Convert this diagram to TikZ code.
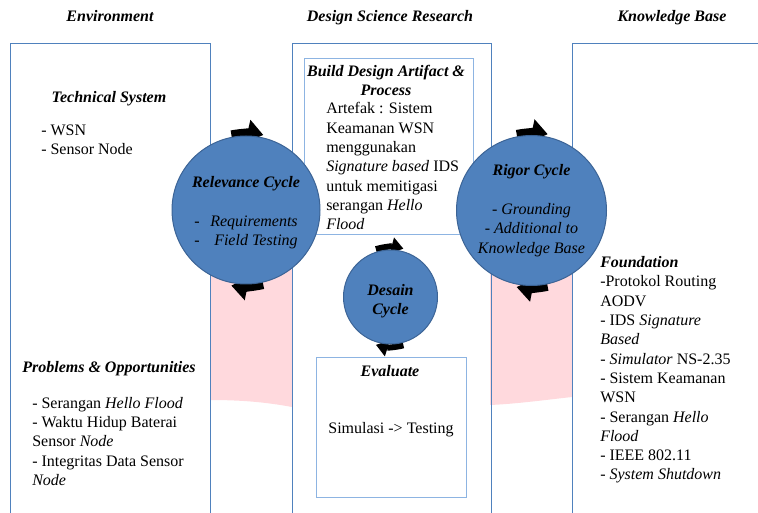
\documentclass[tikz,border=0pt]{standalone}
\usepackage{fontspec}
\setmainfont{Liberation Serif}
\usetikzlibrary{arrows.meta}
\definecolor{boxblue}{RGB}{79,129,189}
\definecolor{lightblue}{RGB}{141,180,226}
\definecolor{cyclefill}{RGB}{79,129,189}
\definecolor{cycleedge}{RGB}{60,100,150}
\definecolor{pinkzone}{RGB}{255,217,221}
% two black arrows round a cycle: [style]{centre}{radius}{start}{end}
\newcommand{\cyclearrows}[5][]{%
  \draw[arrowband,#1] ([shift={(-#4:#3)}]#2) arc (-#4:-#5:#3);
  \draw[arrowband,#1] ([shift={(#5:#3)}]#2) arc (#5:#4:#3);
}

\begin{document}
\begin{tikzpicture}[x=0.75pt, y=-0.75pt,
    outerbox/.style={draw=boxblue, line width=0.75pt},
    innerbox/.style={draw=lightblue, line width=0.75pt, fill=white},
    cyclenode/.style={circle, draw=cycleedge, fill=cyclefill, line width=0.75pt, inner sep=0pt, align=center, font=\fontsize{12}{14.5}\selectfont\itshape},
    arrowband/.style={line width=6pt, -{Triangle[length=12pt, width=17pt]}},
    smallband/.style={line width=4.5pt, -{Triangle[length=9pt, width=12pt]}},
    heading/.style={inner sep=0pt, anchor=base, align=center, font=\fontsize{12}{14.5}\selectfont\bfseries\itshape},
    txt/.style={inner sep=0pt, anchor=base west, align=left, font=\fontsize{12}{14.5}\selectfont}]
  %%%%% START %%%%%
  \useasboundingbox (0,0) rectangle (758,513);

  % pink zones between the columns
  \fill[pinkzone] (210,262) -- (292,262) -- (292,407) .. controls (265,402) and (240,400) .. (210,400) -- cycle;
  \fill[pinkzone] (490,262) -- (572,262) -- (572,397) .. controls (545,400) and (515,404) .. (490,405) -- cycle;

  % columns
  \draw[outerbox] (10,513) |- (210,44) -- (210,513);
  \draw[outerbox] (292,513) |- (491,44) -- (491,513);
  \draw[outerbox] (572,513) |- (758,44);

  \draw[innerbox] (304,59) rectangle (473,235);
  \draw[innerbox] (316,358) rectangle (466,498);

  % column titles
  \node[heading] (envtitle) at (110,22) {Environment};
  \node[heading] (dsrtitle) at (390,22) {Design Science Research};
  \node[heading] (kbtitle) at (672,22) {Knowledge Base};

  % environment (multi-line texts sit on their last line)
  \node[heading] (techsys) at (109,103) {Technical System};
  \node[txt] (techlist) at (41,154.5) {- WSN\\- Sensor Node};
  \node[heading] (problems) at (109,373) {Problems \& Opportunities};
  \node[txt] (problist) at (32,485.5) {- Serangan \textit{Hello Flood}\\- Waktu Hidup Baterai\\Sensor \textit{Node}\\- Integritas Data Sensor\\\textit{Node}};

  % design science research
  \node[heading] (build) at (386,95.5) {Build Design Artifact \&\\Process};
  \node[txt] (buildtext) at (326,230) {Artefak : Sistem\\Keamanan WSN\\menggunakan\\\textit{Signature based} IDS\\untuk memitigasi\\serangan \textit{Hello}\\\textit{Flood}};
  \node[heading] (evaluate) at (390,377) {Evaluate};
  \node[txt, anchor=base] (evaltext) at (391,434) {Simulasi -> Testing};

  % knowledge base
  \node[txt] (foundation) at (600,480) {\textbf{\textit{Foundation}}\\-Protokol Routing\\AODV\\- IDS \textit{Signature}\\\textit{Based}\\- \textit{Simulator} NS-2.35\\- Sistem Keamanan\\WSN\\- Serangan \textit{Hello}\\\textit{Flood}\\- IEEE 802.11\\- \textit{System Shutdown}};

  % cycles
  \coordinate (relcentre) at (246,210);
  \coordinate (rigcentre) at (531.5,210.5);
  \coordinate (descentre) at (390.5,297);

  \cyclearrows{relcentre}{77}{101}{77}
  \cyclearrows{rigcentre}{78}{101}{78}
  \cyclearrows[smallband]{descentre}{50}{107}{75}

  \node[cyclenode, minimum size=111pt] (relevance) at (relcentre) {\rule{0pt}{14.5pt}\textbf{Relevance Cycle}\\[14.5pt]\begin{tabular}[t]{@{}l@{\hspace{8pt}}r@{}}-&Requirements\\-&Field Testing\end{tabular}};
  \node[cyclenode, minimum size=112.5pt] (rigor) at (rigcentre) {\textbf{Rigor Cycle}\\[14.5pt]- Grounding\\- Additional to\\Knowledge Base};
  \node[cyclenode, minimum size=70.5pt] (desain) at (descentre) {\rule{0pt}{14.5pt}\textbf{Desain}\\\textbf{Cycle}};
  %%%%% END %%%%%
\end{tikzpicture}
\end{document}
